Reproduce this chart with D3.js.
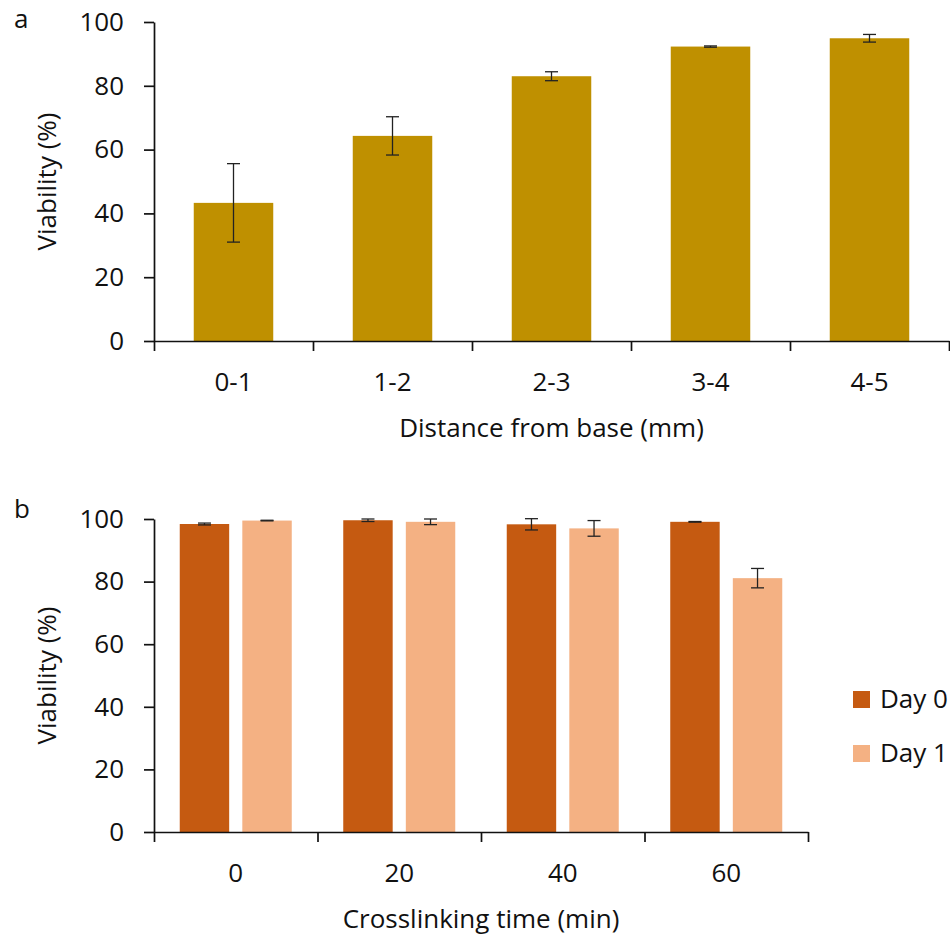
<!DOCTYPE html>
<html>
<head>
<meta charset="utf-8">
<script src="https://cdn.jsdelivr.net/npm/d3@7"></script>
<style>
    body { margin: 0; background: #fff; }
    svg { display: block; font-family: 'Open Sans', sans-serif; }
</style>
</head>
<body>
<div id="chart"></div>
<script>
// Panel a: viability by distance from base
const distCategories = ['0-1', '1-2', '2-3', '3-4', '4-5'];
const distViability = [43.3, 64.3, 83.0, 92.3, 94.9];
const distError = [12.3, 6.0, 1.4, 0.2, 1.2];

// Panel b: viability by crosslinking time
const timeCategories = ['0', '20', '40', '60'];
const seriesNames = ['Day 0', 'Day 1'];
const day0Viability = [98.4, 99.6, 98.3, 99.1];
const day0Error = [0.3, 0.4, 1.8, 0.1];
const day1Viability = [99.5, 99.1, 97.0, 81.1];
const day1Error = [0.1, 0.9, 2.5, 3.1];

const yTicks = [0, 20, 40, 60, 80, 100];

const COLORS = {
    gold: '#BF9000',
    day0: '#C55A11',
    day1: '#F4B183',
    axis: '#111',
    err: '#222',
    text: '#111'
};
const FONT = "'Open Sans', sans-serif";
const FONT_SIZE = 26;
const CAP = 13;

const svg = d3.select('#chart').append('svg')
    .attr('width', 950)
    .attr('height', 938);

function drawAxes(g, width, height, categories, y, xTitle) {
    // y axis
    const yAxis = g.append('g')
        .call(d3.axisLeft(y).tickValues(yTicks).tickSize(10).tickSizeOuter(0).tickPadding(20));

    // x axis: ticks sit between categories (Excel style)
    const edges = d3.scaleLinear().domain([0, categories.length]).range([0, width]);
    const xAxis = g.append('g')
        .attr('transform', `translate(0,${height})`)
        .call(d3.axisBottom(edges).tickValues(d3.range(categories.length + 1)).tickFormat('').tickSize(10).tickSizeOuter(0));

    const labels = d3.scaleBand().domain(categories).range([0, width]);
    const xLabels = g.append('g')
        .attr('transform', `translate(0,${height})`)
        .call(d3.axisBottom(labels).tickSize(0).tickPadding(32));
    xLabels.select('.domain').remove();

    [yAxis, xAxis].forEach(a => {
        a.selectAll('.domain, .tick line').attr('stroke', COLORS.axis).attr('stroke-width', 1.7);
    });
    g.selectAll('.tick text')
        .attr('fill', COLORS.text)
        .style('font-size', FONT_SIZE + 'px')
        .style('font-family', FONT);

    g.append('text')
        .attr('x', width / 2)
        .attr('y', height + 96)
        .attr('text-anchor', 'middle')
        .attr('fill', COLORS.text)
        .style('font-size', FONT_SIZE + 'px')
        .text(xTitle);

    g.append('text')
        .attr('transform', `translate(-105,${height / 2}) rotate(-90)`)
        .attr('text-anchor', 'middle')
        .attr('dominant-baseline', 'middle')
        .attr('fill', COLORS.text)
        .style('font-size', FONT_SIZE + 'px')
        .text('Viability (%)');
}

function drawErrors(g, data, xc, y) {
    const e = g.append('g').attr('class', 'errors')
        .selectAll('g').data(data).enter().append('g')
        .attr('stroke', COLORS.err)
        .attr('stroke-width', 1.3);
    e.append('line')
        .attr('x1', xc).attr('x2', xc)
        .attr('y1', d => y(d.v + d.e)).attr('y2', d => y(d.v - d.e));
    e.append('line')
        .attr('x1', d => xc(d) - CAP / 2).attr('x2', d => xc(d) + CAP / 2)
        .attr('y1', d => y(d.v + d.e)).attr('y2', d => y(d.v + d.e));
    e.append('line')
        .attr('x1', d => xc(d) - CAP / 2).attr('x2', d => xc(d) + CAP / 2)
        .attr('y1', d => y(d.v - d.e)).attr('y2', d => y(d.v - d.e));
}

// ---- Panel a ----
{
    const margin = { left: 154, top: 22 };
    const width = 795, height = 319;
    const g = svg.append('g').attr('transform', `translate(${margin.left},${margin.top})`);

    const x = d3.scaleBand().domain(distCategories).range([0, width]).paddingInner(0.5).paddingOuter(0.25);
    const y = d3.scaleLinear().domain([0, 100]).range([height, 0]);

    const data = distCategories.map((c, i) => ({ c, v: distViability[i], e: distError[i] }));

    g.append('g').selectAll('rect').data(data).enter().append('rect')
        .attr('x', d => x(d.c))
        .attr('y', d => y(d.v))
        .attr('width', x.bandwidth())
        .attr('height', d => height - y(d.v))
        .attr('fill', COLORS.gold);

    drawErrors(g, data, d => x(d.c) + x.bandwidth() / 2, y);
    drawAxes(g, width, height, distCategories, y, 'Distance from base (mm)');

    svg.append('text').attr('x', 14).attr('y', 28)
        .attr('fill', COLORS.text).style('font-size', FONT_SIZE + 'px').text('a');
}

// ---- Panel b ----
{
    const margin = { left: 154, top: 519 };
    const width = 654, height = 313;
    const g = svg.append('g').attr('transform', `translate(${margin.left},${margin.top})`);

    const x0 = d3.scaleBand().domain(timeCategories).range([0, width]).paddingInner(0.315).paddingOuter(0.1575);
    const x1 = d3.scaleBand().domain(seriesNames).range([0, x0.bandwidth()]).paddingInner(0.21);
    const y = d3.scaleLinear().domain([0, 100]).range([height, 0]);
    const color = d3.scaleOrdinal().domain(seriesNames).range([COLORS.day0, COLORS.day1]);

    const values = { 'Day 0': day0Viability, 'Day 1': day1Viability };
    const errors = { 'Day 0': day0Error, 'Day 1': day1Error };
    const data = [];
    timeCategories.forEach((c, i) => {
        seriesNames.forEach(s => data.push({ c, s, v: values[s][i], e: errors[s][i] }));
    });

    g.append('g').selectAll('rect').data(data).enter().append('rect')
        .attr('x', d => x0(d.c) + x1(d.s))
        .attr('y', d => y(d.v))
        .attr('width', x1.bandwidth())
        .attr('height', d => height - y(d.v))
        .attr('fill', d => color(d.s));

    drawErrors(g, data, d => x0(d.c) + x1(d.s) + x1.bandwidth() / 2, y);
    drawAxes(g, width, height, timeCategories, y, 'Crosslinking time (min)');

    svg.append('text').attr('x', 14).attr('y', 518)
        .attr('fill', COLORS.text).style('font-size', FONT_SIZE + 'px').text('b');

    // legend
    const legend = svg.append('g').attr('transform', 'translate(853,691)');
    const items = legend.selectAll('g').data(seriesNames).enter().append('g')
        .attr('transform', (d, i) => `translate(0,${i * 54})`);
    items.append('rect')
        .attr('width', 17).attr('height', 17)
        .attr('fill', d => color(d));
    items.append('text')
        .attr('x', 27).attr('y', 17)
        .attr('fill', COLORS.text)
        .style('font-size', FONT_SIZE + 'px')
        .text(d => d);
}
</script>
</body>
</html>
